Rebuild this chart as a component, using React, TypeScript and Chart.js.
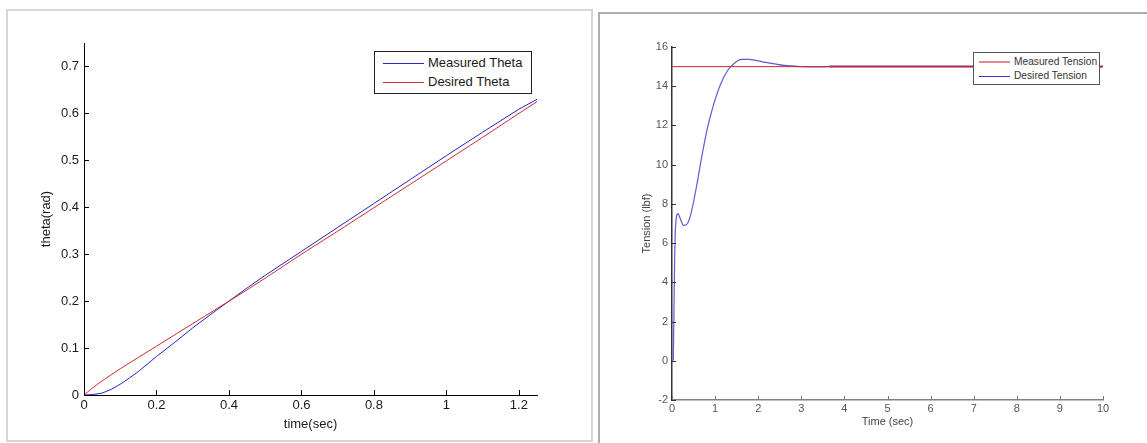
import React, { useEffect, useRef } from "react";
import { Chart, registerables } from "chart.js";

Chart.register(...registerables);

// ---- Left chart data (theta) ----
const thetaTime = [0, 0.025, 0.05, 0.075, 0.1, 0.125, 0.15, 0.2, 0.25, 0.3, 0.35, 0.4, 0.45, 0.5, 0.6, 0.7, 0.8, 0.9, 1.0, 1.1, 1.2, 1.25];
const measuredTheta = [0, 0.001, 0.004, 0.012, 0.023, 0.036, 0.05, 0.082, 0.112, 0.143, 0.172, 0.2, 0.228, 0.255, 0.306, 0.357, 0.408, 0.459, 0.51, 0.56, 0.609, 0.63];
const desiredTheta = [0, 0.016, 0.03, 0.043, 0.056, 0.068, 0.08, 0.104, 0.128, 0.152, 0.176, 0.2, 0.224, 0.249, 0.3, 0.349, 0.399, 0.449, 0.499, 0.549, 0.6, 0.625];
const thetaLegend = ["Measured Theta", "Desired Theta"];

// ---- Right chart data (tension) ----
const tensionTime = [0.03, 0.045, 0.06, 0.075, 0.095, 0.115, 0.14, 0.19, 0.27, 0.36, 0.44, 0.57, 0.69, 0.82, 0.95, 1.12, 1.29, 1.46, 1.62, 1.79, 2.13, 2.6, 2.98, 3.3, 3.65, 5, 7, 10];
const desiredTension = [0, 2.4, 5.0, 6.5, 7.2, 7.45, 7.5, 7.26, 6.9, 7.0, 7.5, 8.9, 10.4, 11.85, 12.95, 14.06, 14.8, 15.2, 15.37, 15.37, 15.23, 15.06, 15.0, 14.98, 15.0, 15.0, 15.0, 15.0];
const measuredTensionTime = [0, 10];
const measuredTension = [15, 15];
const tensionLegend = ["Measured Tension", "Desired Tension"];

const FONT = "'Liberation Sans', Arial, Helvetica, sans-serif";

const fmt = (v: number) => String(Math.round(v * 100) / 100);

const inwardTicks = {
  id: "inwardTicks",
  afterDraw(chart: any, _args: any, opts: any) {
    const { ctx, chartArea } = chart;
    const xs = chart.scales.x;
    const ys = chart.scales.y;
    ctx.save();
    ctx.lineWidth = 1;
    ctx.strokeStyle = opts.xColor;
    xs.ticks.forEach((t: any) => {
      const px = Math.round(xs.getPixelForValue(t.value)) + 0.5;
      ctx.beginPath();
      ctx.moveTo(px, chartArea.bottom);
      ctx.lineTo(px, chartArea.bottom - opts.len);
      ctx.stroke();
    });
    ctx.strokeStyle = opts.yColor;
    ys.ticks.forEach((t: any) => {
      const py = Math.round(ys.getPixelForValue(t.value)) + 0.5;
      ctx.beginPath();
      ctx.moveTo(chartArea.left, py);
      ctx.lineTo(chartArea.left + opts.len, py);
      ctx.stroke();
    });
    ctx.restore();
  },
};

function ThetaChart() {
  const ref = useRef<HTMLCanvasElement>(null);
  useEffect(() => {
    const chart = new Chart(ref.current!, {
      type: "line",
      data: {
        datasets: [
          {
            label: thetaLegend[1],
            data: thetaTime.map((t, i) => ({ x: t, y: desiredTheta[i] })),
            borderColor: "#d42a2a",
            borderWidth: 1,
            pointRadius: 0,
            tension: 0,
          },
          {
            label: thetaLegend[0],
            data: thetaTime.map((t, i) => ({ x: t, y: measuredTheta[i] })),
            borderColor: "#2424c8",
            borderWidth: 1,
            pointRadius: 0,
            tension: 0,
          },
        ],
      },
      options: {
        animation: false,
        responsive: false,
        devicePixelRatio: 1,
        layout: { padding: { top: 32, right: 53, left: 0, bottom: 0 } },
        plugins: {
          legend: { display: false },
          tooltip: { enabled: false },
          inwardTicks: { len: 5, xColor: "#000", yColor: "#000" },
        } as any,
        scales: {
          x: {
            type: "linear",
            min: 0,
            max: 1.25,
            afterFit: (s: any) => { s.height = 48; },
            ticks: { stepSize: 0.2, includeBounds: false, autoSkip: false, maxRotation: 0, padding: 3, color: "#1a1a1a", font: { family: FONT, size: 13 }, callback: (v: any) => fmt(v) },
            grid: { display: true, drawOnChartArea: false, drawTicks: false },
            border: { display: true, color: "#000", width: 1 },
            title: { display: true, text: "time(sec)", color: "#1a1a1a", font: { family: FONT, size: 13 }, padding: { top: 0, bottom: 11 } },
          },
          y: {
            type: "linear",
            min: 0,
            max: 0.75,
            afterFit: (s: any) => { s.width = 76; },
            ticks: { stepSize: 0.1, includeBounds: false, autoSkip: false, padding: 5, color: "#1a1a1a", font: { family: FONT, size: 13 }, callback: (v: any) => fmt(v) },
            grid: { display: true, drawOnChartArea: false, drawTicks: false },
            border: { display: true, color: "#000", width: 1 },
            title: { display: true, text: "theta(rad)", color: "#1a1a1a", font: { family: FONT, size: 13 }, padding: { top: 31, bottom: 0 } },
          },
        },
      },
      plugins: [inwardTicks],
    });
    return () => chart.destroy();
  }, []);
  return <canvas ref={ref} width={582} height={432} style={{ position: "absolute", left: 8, top: 11, width: 582, height: 432 }} />;
}

function TensionChart() {
  const ref = useRef<HTMLCanvasElement>(null);
  useEffect(() => {
    const chart = new Chart(ref.current!, {
      type: "line",
      data: {
        datasets: [
          {
            label: tensionLegend[0],
            data: measuredTensionTime.map((t, i) => ({ x: t, y: measuredTension[i] })),
            borderColor: "#d02828",
            borderWidth: 1,
            pointRadius: 0,
            tension: 0,
          },
          {
            label: tensionLegend[1],
            data: tensionTime.map((t, i) => ({ x: t, y: desiredTension[i] })),
            borderColor: "rgba(50,50,200,0.8)",
            borderWidth: 1.2,
            pointRadius: 0,
            cubicInterpolationMode: "monotone",
            segment: {
              borderColor: (c: any) => (c.p0.parsed.x >= 3.6 ? "#7a2c8e" : undefined),
              borderWidth: (c: any) => (c.p0.parsed.x >= 3.6 ? 2 : undefined),
            },
          } as any,
        ],
      },
      options: {
        animation: false,
        responsive: false,
        devicePixelRatio: 1,
        layout: { padding: { top: 32, right: 44, left: 0, bottom: 0 } },
        plugins: {
          legend: { display: false },
          tooltip: { enabled: false },
          inwardTicks: { len: 4, xColor: "#777", yColor: "#333" },
        } as any,
        scales: {
          x: {
            type: "linear",
            min: 0,
            max: 10,
            afterFit: (s: any) => { s.height = 43; },
            ticks: { stepSize: 1, includeBounds: false, autoSkip: false, maxRotation: 0, padding: 2, color: "#555", font: { family: FONT, size: 11 }, callback: (v: any) => fmt(v) },
            grid: { display: true, drawOnChartArea: false, drawTicks: false },
            border: { display: true, color: "#808080", width: 1.5 },
            title: { display: true, text: "Time (sec)", color: "#444", font: { family: FONT, size: 11 }, padding: { top: 0, bottom: 14 } },
          },
          y: {
            type: "linear",
            min: -2,
            max: 16,
            afterFit: (s: any) => { s.width = 71; },
            ticks: { stepSize: 2, includeBounds: false, autoSkip: false, padding: 4, color: "#555", font: { family: FONT, size: 11 }, callback: (v: any) => fmt(v) },
            grid: { display: true, drawOnChartArea: false, drawTicks: false },
            border: { display: true, color: "#333", width: 1.5 },
            title: { display: true, text: "Tension (lbf)", color: "#444", font: { family: FONT, size: 11 }, padding: { top: 39, bottom: 0 } },
          },
        },
      },
      plugins: [inwardTicks],
    });
    return () => chart.destroy();
  }, []);
  return <canvas ref={ref} width={546} height={428} style={{ position: "absolute", left: 601, top: 15, width: 546, height: 428 }} />;
}

function LegendRow(props: { y: number; x: number; lineW: number; color: string; lineH: number; text: string; size: number; textColor: string }) {
  return (
    <>
      <div style={{ position: "absolute", left: props.x, top: props.y - props.lineH / 2, width: props.lineW, height: props.lineH, background: props.color }} />
      <div style={{ position: "absolute", left: props.x + props.lineW + 4, top: props.y - props.size * 0.6, fontFamily: FONT, fontSize: props.size, lineHeight: `${props.size * 1.2}px`, color: props.textColor, whiteSpace: "nowrap" }}>{props.text}</div>
    </>
  );
}

export default function App() {
  return (
    <div style={{ position: "absolute", left: 0, top: 0, width: 1147, height: 443, overflow: "hidden", background: "#fff" }}>
      <div style={{ position: "absolute", left: 6, top: 9, width: 587, height: 433, border: "2px solid #d6d6d6", boxSizing: "border-box" }} />
      <div style={{ position: "absolute", left: 598, top: 12, width: 620, height: 500, border: "2px solid #adadad", boxSizing: "border-box" }} />
      <ThetaChart />
      <TensionChart />
      {/* left legend */}
      <div style={{ position: "absolute", left: 374, top: 51, width: 158, height: 43, border: "1px solid #222", boxSizing: "border-box", background: "#fff" }} />
      <LegendRow x={383} y={63} lineW={41} lineH={1} color="#2424c8" text={thetaLegend[0]} size={13} textColor="#1a1a1a" />
      <LegendRow x={383} y={82} lineW={41} lineH={1} color="#d42a2a" text={thetaLegend[1]} size={13} textColor="#1a1a1a" />
      {/* right legend */}
      <div style={{ position: "absolute", left: 973, top: 52, width: 127, height: 33, border: "1px solid #555", boxSizing: "border-box", background: "#fff" }} />
      <LegendRow x={979} y={62} lineW={31} lineH={2} color="#e08c8c" text={tensionLegend[0]} size={10.2} textColor="#333" />
      <LegendRow x={979} y={76} lineW={31} lineH={1} color="#3434c0" text={tensionLegend[1]} size={10.2} textColor="#333" />
    </div>
  );
}
